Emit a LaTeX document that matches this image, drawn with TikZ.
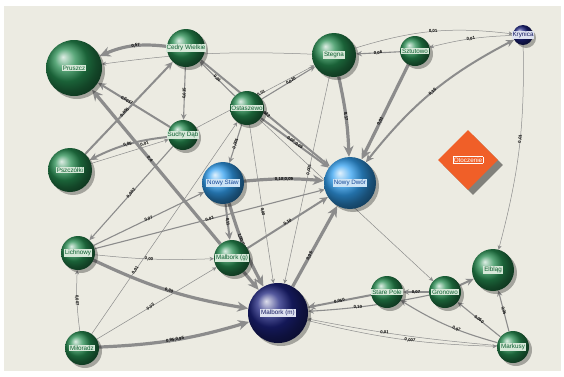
\documentclass[tikz,border=0pt]{standalone}
\usepackage{fontspec}
\setmainfont{Liberation Sans}
\usepackage{xcolor}
\usepackage{tikz}
\usetikzlibrary{shapes.geometric,arrows.meta,shadows,backgrounds}
\definecolor{paper}{RGB}{236,235,226}
\definecolor{edgegray}{RGB}{140,140,140}
\definecolor{sgreen}{RGB}{38,140,80}
\definecolor{sblue}{RGB}{50,160,240}
\definecolor{snavy}{RGB}{28,34,125}
\definecolor{orng}{RGB}{240,95,40}
\definecolor{tagg}{RGB}{214,232,216}
\definecolor{txtg}{RGB}{12,95,48}
\definecolor{tagb}{RGB}{205,228,246}
\definecolor{txtb}{RGB}{20,70,150}
\definecolor{tagn}{RGB}{222,226,240}
\definecolor{txtn}{RGB}{20,25,95}
\setlength{\fboxsep}{0.8pt}
\setlength{\fboxrule}{0.4pt}
\newcommand{\gtag}[1]{\colorbox{tagg}{\textcolor{txtg}{#1}}}
\newcommand{\btag}[1]{\colorbox{tagb}{\textcolor{txtb}{#1}}}
\newcommand{\ntag}[1]{\colorbox{tagn}{\textcolor{txtn}{#1}}}
\tikzset{
    sphere/.style={
        circle,
        inner sep=0pt,
        drop shadow={shadow xshift=3pt, shadow yshift=-3pt, fill=black, opacity=0.3}
    },
    gsphere/.style={sphere, ball color=sgreen},
    bsphere/.style={sphere, ball color=sblue},
    nsphere/.style={sphere, ball color=snavy},
    every label/.style={inner sep=0pt, font=\fontsize{6.3}{7}\selectfont},
    flow/.style={
        draw=edgegray,
        -{Stealth[length=3pt 2.5, width=3pt 2.2]}
    },
    fl1/.style={flow, line width=0.5pt},
    fl2/.style={flow, line width=1.1pt},
    fl3/.style={flow, line width=2pt},
    fl4/.style={flow, line width=3.2pt},
    lbl/.style={sloped, inner sep=0.5pt, font=\fontsize{4.3}{4.5}\selectfont\bfseries}
}

\begin{document}
\begin{tikzpicture}[x=1pt, y=-1pt]
\useasboundingbox (0,0) rectangle (564,376);

% North
\node[gsphere, minimum size=56pt, label={center:\gtag{Pruszcz}}] (pruszcz) at (74,68) {};
\node[gsphere, minimum size=38pt, label={center:\gtag{Cedry Wielkie}}] (cedry) at (186,48) {};
\node[gsphere, minimum size=44pt, label={center:\gtag{Stegna}}] (stegna) at (334,55) {};
\node[gsphere, minimum size=30pt, label={center:\gtag{Sztutowo}}] (sztutowo) at (415,51) {};
\node[nsphere, minimum size=20pt, label={center:\ntag{Krynica}}] (krynica) at (523,35) {};
\node[gsphere, minimum size=34pt, label={center:\gtag{Ostaszewo}}] (ostaszewo) at (247,108) {};
\node[gsphere, minimum size=30pt, label={center:\gtag{Suchy Dąb}}] (suchy) at (183,135) {};
\node[gsphere, minimum size=44pt, label={center:\gtag{Pszczółki}}] (pszczolki) at (70,170) {};

% Nowy Staw, Nowy Dwor
\node[bsphere, minimum size=42pt, label={center:\btag{Nowy Staw}}] (nowystaw) at (223,183) {};
\node[bsphere, minimum size=52pt, label={center:\btag{Nowy Dwór}}] (nowydwor) at (350,183) {};

% Otoczenie
\node[diamond, aspect=1, minimum size=60pt, inner sep=0pt, fill=orng,
      drop shadow={shadow xshift=5pt, shadow yshift=-5pt, fill=black, opacity=0.45},
      font=\fontsize{6.3}{7}\selectfont] (otoczenie) at (468,160) {\color{white}\fbox{Otoczenie}};

% South
\node[gsphere, minimum size=34pt, label={center:\gtag{Lichnowy}}] (lichnowy) at (78,253) {};
\node[gsphere, minimum size=34pt, label={center:\gtag{Miłoradz}}] (miloradz) at (82,348) {};
\node[gsphere, minimum size=36pt, label={center:\gtag{Malbork (g)}}] (malborkg) at (232,258) {};
\node[nsphere, minimum size=60pt, label={center:\ntag{Malbork (m)}}] (malborkm) at (278,313) {};
\node[gsphere, minimum size=32pt, label={center:\gtag{Stare Pole}}] (starepole) at (387,292) {};
\node[gsphere, minimum size=32pt, label={center:\gtag{Gronowo}}] (gronowo) at (445,292) {};
\node[gsphere, minimum size=42pt, label={center:\gtag{Elbląg}}] (elblag) at (493,270) {};
\node[gsphere, minimum size=32pt, label={center:\gtag{Markusy}}] (markusy) at (513,347) {};

\begin{scope}[on background layer]
\fill[paper] (4,6) rectangle (561,371);

% flows north
\draw[fl1] (stegna) to[bend right=5] (pruszcz);
\draw[fl4] (cedry) to[bend right=15] node[lbl, pos=0.45] {0,57} (pruszcz);
\draw[fl3] (suchy) -- node[lbl, pos=0.6] {0,0017} (pruszcz);
\draw[fl4] (malborkg) -- node[lbl, pos=0.55] {0,4} (pruszcz);
\draw[fl3] (pszczolki) -- node[lbl, pos=0.45] {0,005} (cedry);
\draw[fl2] (cedry) -- node[lbl] {0,015} (suchy);
\draw[fl2] (ostaszewo) -- node[lbl] {0,01} (cedry);
\draw[fl3] (cedry) -- node[lbl, pos=0.5] {0,022} (nowydwor);
\draw[fl3] (suchy) to[bend right=10] node[lbl] {0,05} (pszczolki);
\draw[fl1] (pszczolki) -- node[lbl, pos=0.7, above] {0,01} (suchy);
\draw[fl2] (suchy) -- node[lbl] {0,002} (lichnowy);
\draw[fl1] (suchy) -- node[lbl, pos=0.55] {0,01} (stegna);
\draw[fl2] (ostaszewo) -- node[lbl, pos=0.55] {0,020} (stegna);
\draw[fl2] (sztutowo) -- node[lbl] {0,06} (stegna);
\draw[fl1] (stegna) to[bend left=12] node[lbl, pos=0.5] {0,01} (krynica);
\draw[fl1] (krynica) to[bend right=6] node[lbl] {0,01} (sztutowo);
\draw[fl4] (stegna) to[bend left=5] node[lbl] {0,17} (nowydwor);
\draw[fl1] (stegna) -- node[lbl, pos=0.45] {0,005} (malborkm);
\draw[fl4] (sztutowo) -- node[lbl, pos=0.6] {0,03} (nowydwor);
\draw[fl3, {Stealth[length=3pt 2.5, width=3pt 2.2]}-{Stealth[length=3pt 2.5, width=3pt 2.2]}] (nowydwor) to[bend left=12] node[lbl] {0,16} (krynica);
\draw[fl1] (krynica) to[bend left=8] node[lbl, pos=0.45] {0,01} (elblag);

% flows centre
\draw[fl2] (ostaszewo) -- node[lbl] {0,001} (nowystaw);
\draw[fl1] (ostaszewo) -- node[lbl, pos=0.55] {0,00} (malborkm);
\draw[fl3] (ostaszewo) -- node[lbl] {0,02;0,03} (nowydwor);
\draw[fl1] (ostaszewo) -- (gronowo);
\draw[fl4] (nowystaw) to[bend left=5] node[lbl] {0,10;0,09} (nowydwor);
\draw[fl3] (nowystaw) -- node[lbl] {0,11} (malborkg);
\draw[fl4] (nowystaw) to[bend right=6] node[lbl, pos=0.45] {1,00;0,97} (malborkm);
\draw[fl3] (malborkg) -- node[lbl] {0,10} (nowydwor);
\draw[fl4] (malborkg) -- (malborkm);
\draw[fl4] (malborkm) -- node[lbl, pos=0.38] {0,05} (nowydwor);

% flows west
\draw[fl2] (lichnowy) -- node[lbl, pos=0.5] {0,07} (nowystaw);
\draw[fl2] (lichnowy) -- node[lbl, pos=0.5] {0,03} (nowydwor);
\draw[fl1] (lichnowy) to[bend right=4] node[lbl, pos=0.45] {0,00} (malborkg);
\draw[fl4] (lichnowy) to[bend right=8] node[lbl, pos=0.5] {0,30} (malborkm);
\draw[fl1] (miloradz) to[bend left=5] node[lbl] {0,007} (lichnowy);
\draw[fl1] (miloradz) -- node[lbl, pos=0.3] {0,01} (ostaszewo);
\draw[fl1] (miloradz) -- node[lbl, pos=0.45] {0,05} (malborkg);
\draw[fl4] (miloradz) to[bend right=7] node[lbl, pos=0.5] {0,95;0,95} (malborkm);

% flows east
\draw[fl3] (starepole) -- node[lbl] {0,050} (malborkm);
\draw[fl2] (gronowo) to[bend left=4] node[lbl, pos=0.6] {0,10} (malborkm);
\draw[fl1] (markusy) to[bend left=3] node[lbl, pos=0.6] {0,01} (malborkm);
\draw[fl1] (malborkm) to[bend right=6] node[lbl, pos=0.55] {0,007} (markusy);
\draw[fl2] (gronowo) -- node[lbl] {0,07} (starepole);
\draw[fl3] (gronowo) -- (elblag);
\draw[fl2] (markusy) -- node[lbl] {0,050} (gronowo);
\draw[fl2] (markusy) -- node[lbl] {0,05} (elblag);
\draw[fl2] (markusy) to[bend left=8] node[lbl, pos=0.4] {0,07} (starepole);
\end{scope}
\end{tikzpicture}
\end{document}
